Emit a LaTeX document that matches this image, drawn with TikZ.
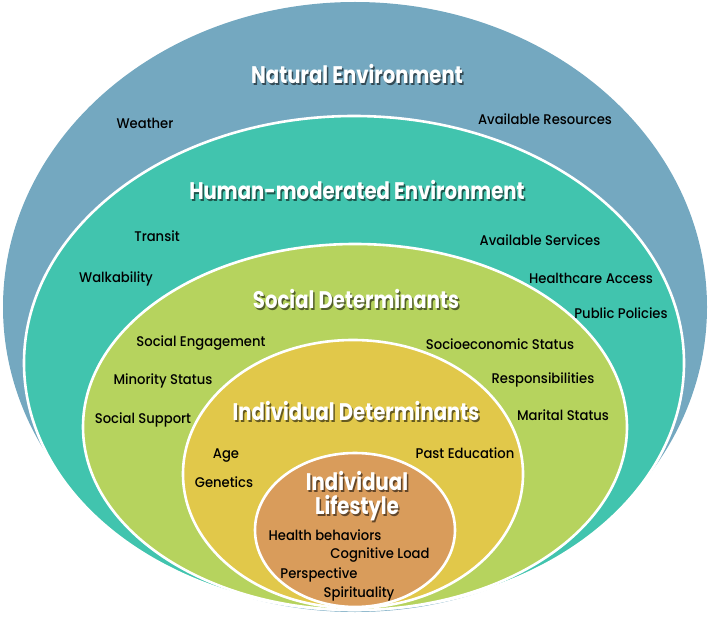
\documentclass[tikz,border=0pt]{standalone}
\usepackage{fontspec}
\setmainfont{Poppins}[UprightFont={* Medium},BoldFont={* Bold}]
\usetikzlibrary{calc}
\definecolor{cnat}{HTML}{74A8C0}
\definecolor{chum}{HTML}{41C4AE}
\definecolor{csoc}{HTML}{B6D35E}
\definecolor{cind}{HTML}{E1C84A}
\definecolor{clife}{HTML}{D99C5B}
\tikzset{
  ring/.style={draw=white, line width=2.6pt},
  lbl/.style={font=\fontsize{14}{16}\selectfont, text=black, inner sep=0pt},
  ttl/.style={font=\fontsize{24}{28}\selectfont\bfseries, text=white, inner sep=0pt},
}
% #1 name, #2 position, #3 text, #4 background colour (for the shadow)
\newcommand\ttlnode[4]{%
  \node[ttl] (#1) at (#2) {\scalebox{0.82}[1]{\rlap{\kern1.8pt\raisebox{-2.2pt}{\color{black!55!#4}#3}}#3}};}
\newcommand\lblnode[3]{\node[lbl] (#1) at (#2) {\scalebox{0.94}[1]{#3}};}
\begin{document}
\begin{tikzpicture}[x=1pt,y=-1pt]
\useasboundingbox (0,0) rectangle (709,620);
% ellipses
\fill[cnat] (355,307) ellipse [x radius=352, y radius=305];
\fill[chum] (354,363) ellipse [x radius=330, y radius=247];
\draw[ring] (354,363) ellipse [x radius=330, y radius=247];
\fill[csoc] (355,427) ellipse [x radius=272, y radius=183];
\draw[ring] (355,427) ellipse [x radius=272, y radius=183];
\fill[cind] (353,474) ellipse [x radius=170, y radius=134];
\draw[ring] (353,474) ellipse [x radius=170, y radius=134];
\fill[clife] (355,530) ellipse [x radius=100, y radius=77];
\draw[ring] (355,530) ellipse [x radius=100, y radius=77];
% titles
\ttlnode{tnat}{357,75}{Natural Environment}{cnat}
\ttlnode{thum}{357,191}{Human-moderated Environment}{chum}
\ttlnode{tsoc}{356,300}{Social Determinants}{csoc}
\ttlnode{tind}{356,412}{Individual Determinants}{cind}
\ttlnode{tlife1}{357,482}{Individual}{clife}
\ttlnode{tlife2}{357,509}{Lifestyle}{clife}
% labels
\lblnode{weather}{145,123}{Weather}
\lblnode{resources}{545,119}{Available Resources}
\lblnode{transit}{157,236}{Transit}
\lblnode{services}{540,240}{Available Services}
\lblnode{walk}{116,279}{Walkability}
\lblnode{health}{591,278}{Healthcare Access}
\lblnode{policies}{621,313}{Public Policies}
\lblnode{engage}{201,343}{Social Engagement}
\lblnode{socio}{500,344}{Socioeconomic Status}
\lblnode{minority}{163,381}{Minority Status}
\lblnode{resp}{543,380}{Responsibilities}
\lblnode{support}{143,420}{Social Support}
\lblnode{marital}{563,415}{Marital Status}
\lblnode{age}{226,456}{Age}
\lblnode{genetics}{224,482}{Genetics}
\lblnode{pasted}{465,453}{Past Education}
\lblnode{behav}{325,535}{Health behaviors}
\lblnode{cogn}{380,555}{Cognitive Load}
\lblnode{persp}{319,575}{Perspective}
\lblnode{spirit}{359,594}{Spirituality}
\end{tikzpicture}
\end{document}
